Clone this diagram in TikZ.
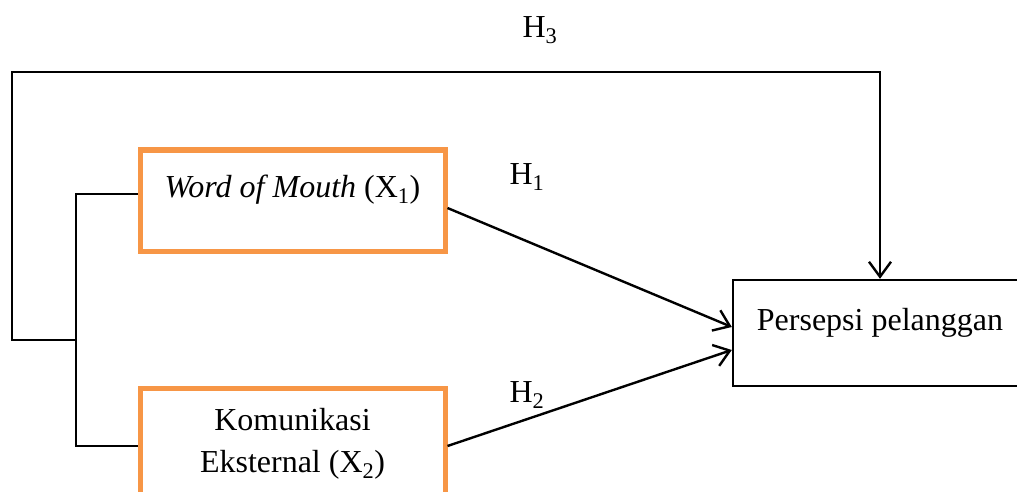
\documentclass[tikz,border=0pt]{standalone}
\usepackage{fontspec}
\setmainfont{Liberation Serif}
\usetikzlibrary{arrows.meta}
\definecolor{boxorange}{HTML}{F79646}
\tikzset{
  every node/.style={font=\fontsize{32}{42}\selectfont},
  obox/.style={draw=boxorange, line width=5pt, minimum width=305pt, inner sep=0pt},
  pbox/.style={draw=black, line width=2.4pt, minimum width=307pt, minimum height=106pt, inner sep=0pt},
  conn/.style={draw=black, line width=2.4pt},
  arr/.style={conn, -{Straight Barb[length=15pt, width=22pt, line width=2.4pt]}},
  txt/.style={inner sep=0pt, anchor=base},
}
\begin{document}
\begin{tikzpicture}[x=1pt, y=-1pt]
\useasboundingbox (0,0) rectangle (1017,492);
\clip (0,0) rectangle (1017,492);
\fill[white] (0,0) rectangle (1017,492);
% boxes
\node[obox, minimum height=101pt] (x1) at (292.5,200.5) {};
\node[txt] (x1t) at (292.5,197) {\textit{Word of Mouth} (X\textsubscript{1})};
\node[obox, minimum height=116pt] (x2) at (292.5,446) {};
\node[txt] (x2a) at (292.5,430) {Komunikasi};
\node[txt] (x2b) at (292.5,472) {Eksternal (X\textsubscript{2})};
\node[pbox] (p) at (886.5,333) {};
\node[txt] (pt) at (880,330) {Persepsi pelanggan};
% labels
\node (h3) at (540,30) {H\textsubscript{3}};
\node (h1) at (527,177) {H\textsubscript{1}};
\node (h2) at (527,395) {H\textsubscript{2}};
% connectors
\coordinate (j) at (76,340);
\coordinate (c1) at (12,340);
\coordinate (c2) at (12,72);
\coordinate (c3) at (880,72);
\draw[conn] ([yshift=6.5pt]x1.west) -| (j) |- (x2.west);
\draw[arr, line join=miter] (j) -- (c1) -- (c2) -- (c3) -- (c3 |- p.north);
\draw[arr] ([yshift=-7.5pt]x1.east) -- ([yshift=6pt]p.west);
\draw[arr] (x2.east) -- ([yshift=-17pt]p.west);
\end{tikzpicture}
\end{document}
